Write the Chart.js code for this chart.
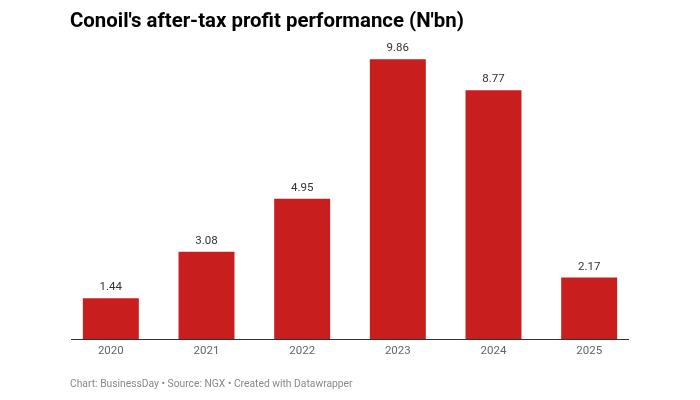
<!DOCTYPE html>
<html>
<head>
<meta charset="utf-8">
<script src="https://cdn.jsdelivr.net/npm/chart.js@4/dist/chart.umd.min.js"></script>
<style>
  body { margin: 0; background: #fff; }
  #wrap { position: relative; width: 700px; height: 400px; font-family: Roboto, sans-serif; }
  #titulo { position: absolute; left: 70px; top: 8px; font-size: 20.4px; font-weight: bold; color: #000; white-space: nowrap; }
  #rodape { position: absolute; left: 70px; top: 377px; font-size: 10.3px; color: #888; white-space: nowrap; }
  #grafico { position: absolute; left: 0; top: 0; }
</style>
</head>
<body>
<div id="wrap">
  <canvas id="grafico" width="700" height="400"></canvas>
  <div id="titulo">Conoil's after-tax profit performance (N'bn)</div>
  <div id="rodape">Chart: BusinessDay • Source: NGX • Created with Datawrapper</div>
</div>
<script>
const anos = ['2020', '2021', '2022', '2023', '2024', '2025'];
const lucro = [1.44, 3.08, 4.95, 9.86, 8.77, 2.17];
const rotulos = ['1.44', '3.08', '4.95', '9.86', '8.77', '2.17'];

const rotulosPlugin = {
    id: 'rotulos',
    afterDatasetsDraw(chart) {
        const ctx = chart.ctx;
        const meta = chart.getDatasetMeta(0);
        ctx.save();
        ctx.font = '11.5px Roboto';
        ctx.fillStyle = '#333';
        ctx.textAlign = 'center';
        ctx.textBaseline = 'bottom';
        meta.data.forEach((bar, i) => {
            ctx.fillText(rotulos[i], bar.x, bar.y - 5);
        });
        ctx.restore();
    }
};

const linhaBasePlugin = {
    id: 'linhaBase',
    afterDatasetsDraw(chart) {
        const ctx = chart.ctx;
        const area = chart.chartArea;
        const y = chart.scales.y.getPixelForValue(0);
        ctx.save();
        ctx.strokeStyle = '#333';
        ctx.lineWidth = 1;
        ctx.beginPath();
        ctx.moveTo(area.left + 8, Math.round(y) + 0.5);
        ctx.lineTo(area.right - 8, Math.round(y) + 0.5);
        ctx.stroke();
        ctx.restore();
    }
};

new Chart(document.getElementById('grafico').getContext('2d'), {
    type: 'bar',
    data: {
        labels: anos,
        datasets: [{
            data: lucro,
            backgroundColor: '#c81e1e',
            borderWidth: 0,
            categoryPercentage: 1,
            barPercentage: 0.585
        }]
    },
    options: {
        responsive: false,
        animation: false,
        layout: { padding: { left: 63, right: 63, top: 27, bottom: 37 } },
        plugins: { legend: { display: false }, tooltip: { enabled: false } },
        scales: {
            x: {
                grid: { display: false, drawTicks: false },
                border: { display: false },
                ticks: { color: '#666', font: { family: 'Roboto', size: 11.5 }, padding: 5 }
            },
            y: {
                display: false,
                min: 0,
                max: 11
            }
        }
    },
    plugins: [rotulosPlugin, linhaBasePlugin]
});
</script>
</body>
</html>
